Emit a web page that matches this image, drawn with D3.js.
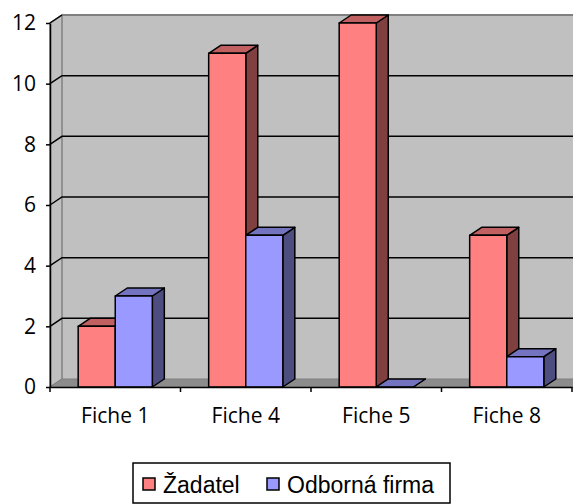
<!doctype html>
<html>
  <head>
    <meta charset="utf-8">
    <script src="https://d3js.org/d3.v7.min.js" charset="utf-8"></script>
    <style>
      body { margin: 0; background: #fff; }
      .tick text { font-family: "Open Sans", sans-serif; font-size: 21px; fill: #000; }
    </style>
  </head>
  <body>
    <script>

// data
var categories = ["Fiche 1", "Fiche 4", "Fiche 5", "Fiche 8"];
var series = ["Žadatel", "Odborná firma"];
var zadatel = [2, 11, 12, 5];
var odborna = [3, 5, 0, 1];
var yTicks = [0, 2, 4, 6, 8, 10, 12];

// face colours for each series: front, top, side
var colors = {
  "Žadatel": { front: "#FF8080", top: "#C06060", side: "#804040" },
  "Odborná firma": { front: "#9999FF", top: "#7373BF", side: "#4D4D80" }
};

var W = 573, H = 504;
var dx = 12, dy = -8; // 3d depth offset

var svg = d3.select("body")
  .append("svg")
    .attr("width", W)
    .attr("height", H);

var x = d3.scaleBand()
  .domain(categories)
  .range([50, 572]);

var xs = d3.scaleBand()
  .domain(series)
  .range([0, x.bandwidth()])
  .paddingOuter(0.76);

var y = d3.scaleLinear()
  .domain([0, 12])
  .range([387, 23]);

var xL = 50, yB = y(0), yT = y(12);

function poly(pts) {
  return "M" + pts.map(function(p) { return p[0] + "," + p[1]; }).join("L") + "Z";
}

// back wall
svg.append("path")
  .attr("d", poly([[xL + dx, yT + dy], [W + 20, yT + dy], [W + 20, yB + dy], [xL + dx, yB + dy]]))
  .attr("fill", "#C0C0C0");

// left side wall
svg.append("path")
  .attr("d", poly([[xL, yT], [xL + dx, yT + dy], [xL + dx, yB + dy], [xL, yB]]))
  .attr("fill", "#C0C0C0")
  .attr("stroke", "#808080")
  .attr("stroke-width", 1.5);

// floor
svg.append("path")
  .attr("d", poly([[xL, yB], [xL + dx, yB + dy], [W + 20, yB + dy], [W + 20, yB]]))
  .attr("fill", "#8C8C8C")
  .attr("stroke", "#808080");

// top edge of back wall
svg.append("line")
  .attr("x1", xL + dx).attr("x2", W)
  .attr("y1", yT + dy).attr("y2", yT + dy)
  .attr("stroke", "#808080")
  .attr("stroke-width", 2);

// gridlines on back wall and side wall
var grid = svg.append("g");
yTicks.filter(function(d) { return d > 0 && d < 12; }).forEach(function(d) {
  grid.append("path")
    .attr("d", "M" + xL + "," + y(d) + "L" + (xL + dx) + "," + (y(d) + dy) + "L" + W + "," + (y(d) + dy))
    .attr("fill", "none")
    .attr("stroke", "#000")
    .attr("stroke-width", 1.5);
});
// slant at the top of side wall
grid.append("line")
  .attr("x1", xL).attr("y1", yT)
  .attr("x2", xL + dx).attr("y2", yT + dy)
  .attr("stroke", "#000").attr("stroke-width", 1.5);

// bars
var rows = categories.map(function(c, i) {
  return [
    { cat: c, s: series[0], v: zadatel[i] },
    { cat: c, s: series[1], v: odborna[i] }
  ];
});

var bars = svg.append("g");
rows.forEach(function(row) {
  row.forEach(function(d) {
    var x0 = x(d.cat) + xs(d.s), x1 = x0 + xs.bandwidth();
    var yt = y(d.v), yb = y(0);
    var c = colors[d.s];
    var g = bars.append("g")
      .attr("stroke", "#000")
      .attr("stroke-width", 1.5)
      .attr("stroke-linejoin", "round");
    // side
    g.append("path")
      .attr("d", poly([[x1, yt], [x1 + dx, yt + dy], [x1 + dx, yb + dy], [x1, yb]]))
      .attr("fill", c.side);
    // top
    g.append("path")
      .attr("d", poly([[x0, yt], [x0 + dx, yt + dy], [x1 + dx, yt + dy], [x1, yt]]))
      .attr("fill", c.top);
    // front
    if (d.v > 0) {
      g.append("rect")
        .attr("x", x0).attr("y", yt)
        .attr("width", x1 - x0).attr("height", yb - yt)
        .attr("fill", c.front);
    }
  });
});

// y axis
var yAxis = svg.append("g")
  .attr("transform", "translate(" + xL + ",0)")
  .call(d3.axisLeft(y).tickValues(yTicks).tickSize(4).tickSizeOuter(0).tickPadding(8));
yAxis.select(".domain").attr("stroke", "#000").attr("stroke-width", 1.5);
yAxis.selectAll(".tick line").attr("stroke", "#000").attr("stroke-width", 1.5);
yAxis.selectAll(".tick text").attr("dx", "-2");

// x axis
var xAxis = svg.append("g")
  .attr("transform", "translate(0," + yB + ")")
  .call(d3.axisBottom(x).tickSize(0).tickSizeOuter(0).tickPadding(21));
xAxis.select(".domain").attr("stroke", "#000").attr("stroke-width", 1.5);
xAxis.selectAll(".tick text").attr("dy", "0.71em");
// category boundary ticks
var edges = categories.map(function(c) { return x(c); }).concat([x.range()[1]]);
xAxis.selectAll(".sep")
  .data(edges)
  .enter().append("line")
    .attr("x1", function(d) { return d; })
    .attr("x2", function(d) { return d; })
    .attr("y1", 0).attr("y2", 5)
    .attr("stroke", "#000").attr("stroke-width", 1.5);

// legend
var legend = svg.append("g");
legend.append("rect")
  .attr("x", 133).attr("y", 463)
  .attr("width", 317).attr("height", 40)
  .attr("fill", "#fff")
  .attr("stroke", "#000")
  .attr("stroke-width", 1.5);
var legendX = [143, 267];
series.forEach(function(s, i) {
  legend.append("rect")
    .attr("x", legendX[i]).attr("y", 478)
    .attr("width", 12).attr("height", 12)
    .attr("fill", colors[s].front)
    .attr("stroke", "#000")
    .attr("stroke-width", 1.5);
  legend.append("text")
    .attr("x", legendX[i] + 20).attr("y", 493)
    .attr("font-family", "Liberation Sans, Arial, sans-serif")
    .attr("font-size", 23)
    .text(s);
});

    </script>
  </body>
</html>
